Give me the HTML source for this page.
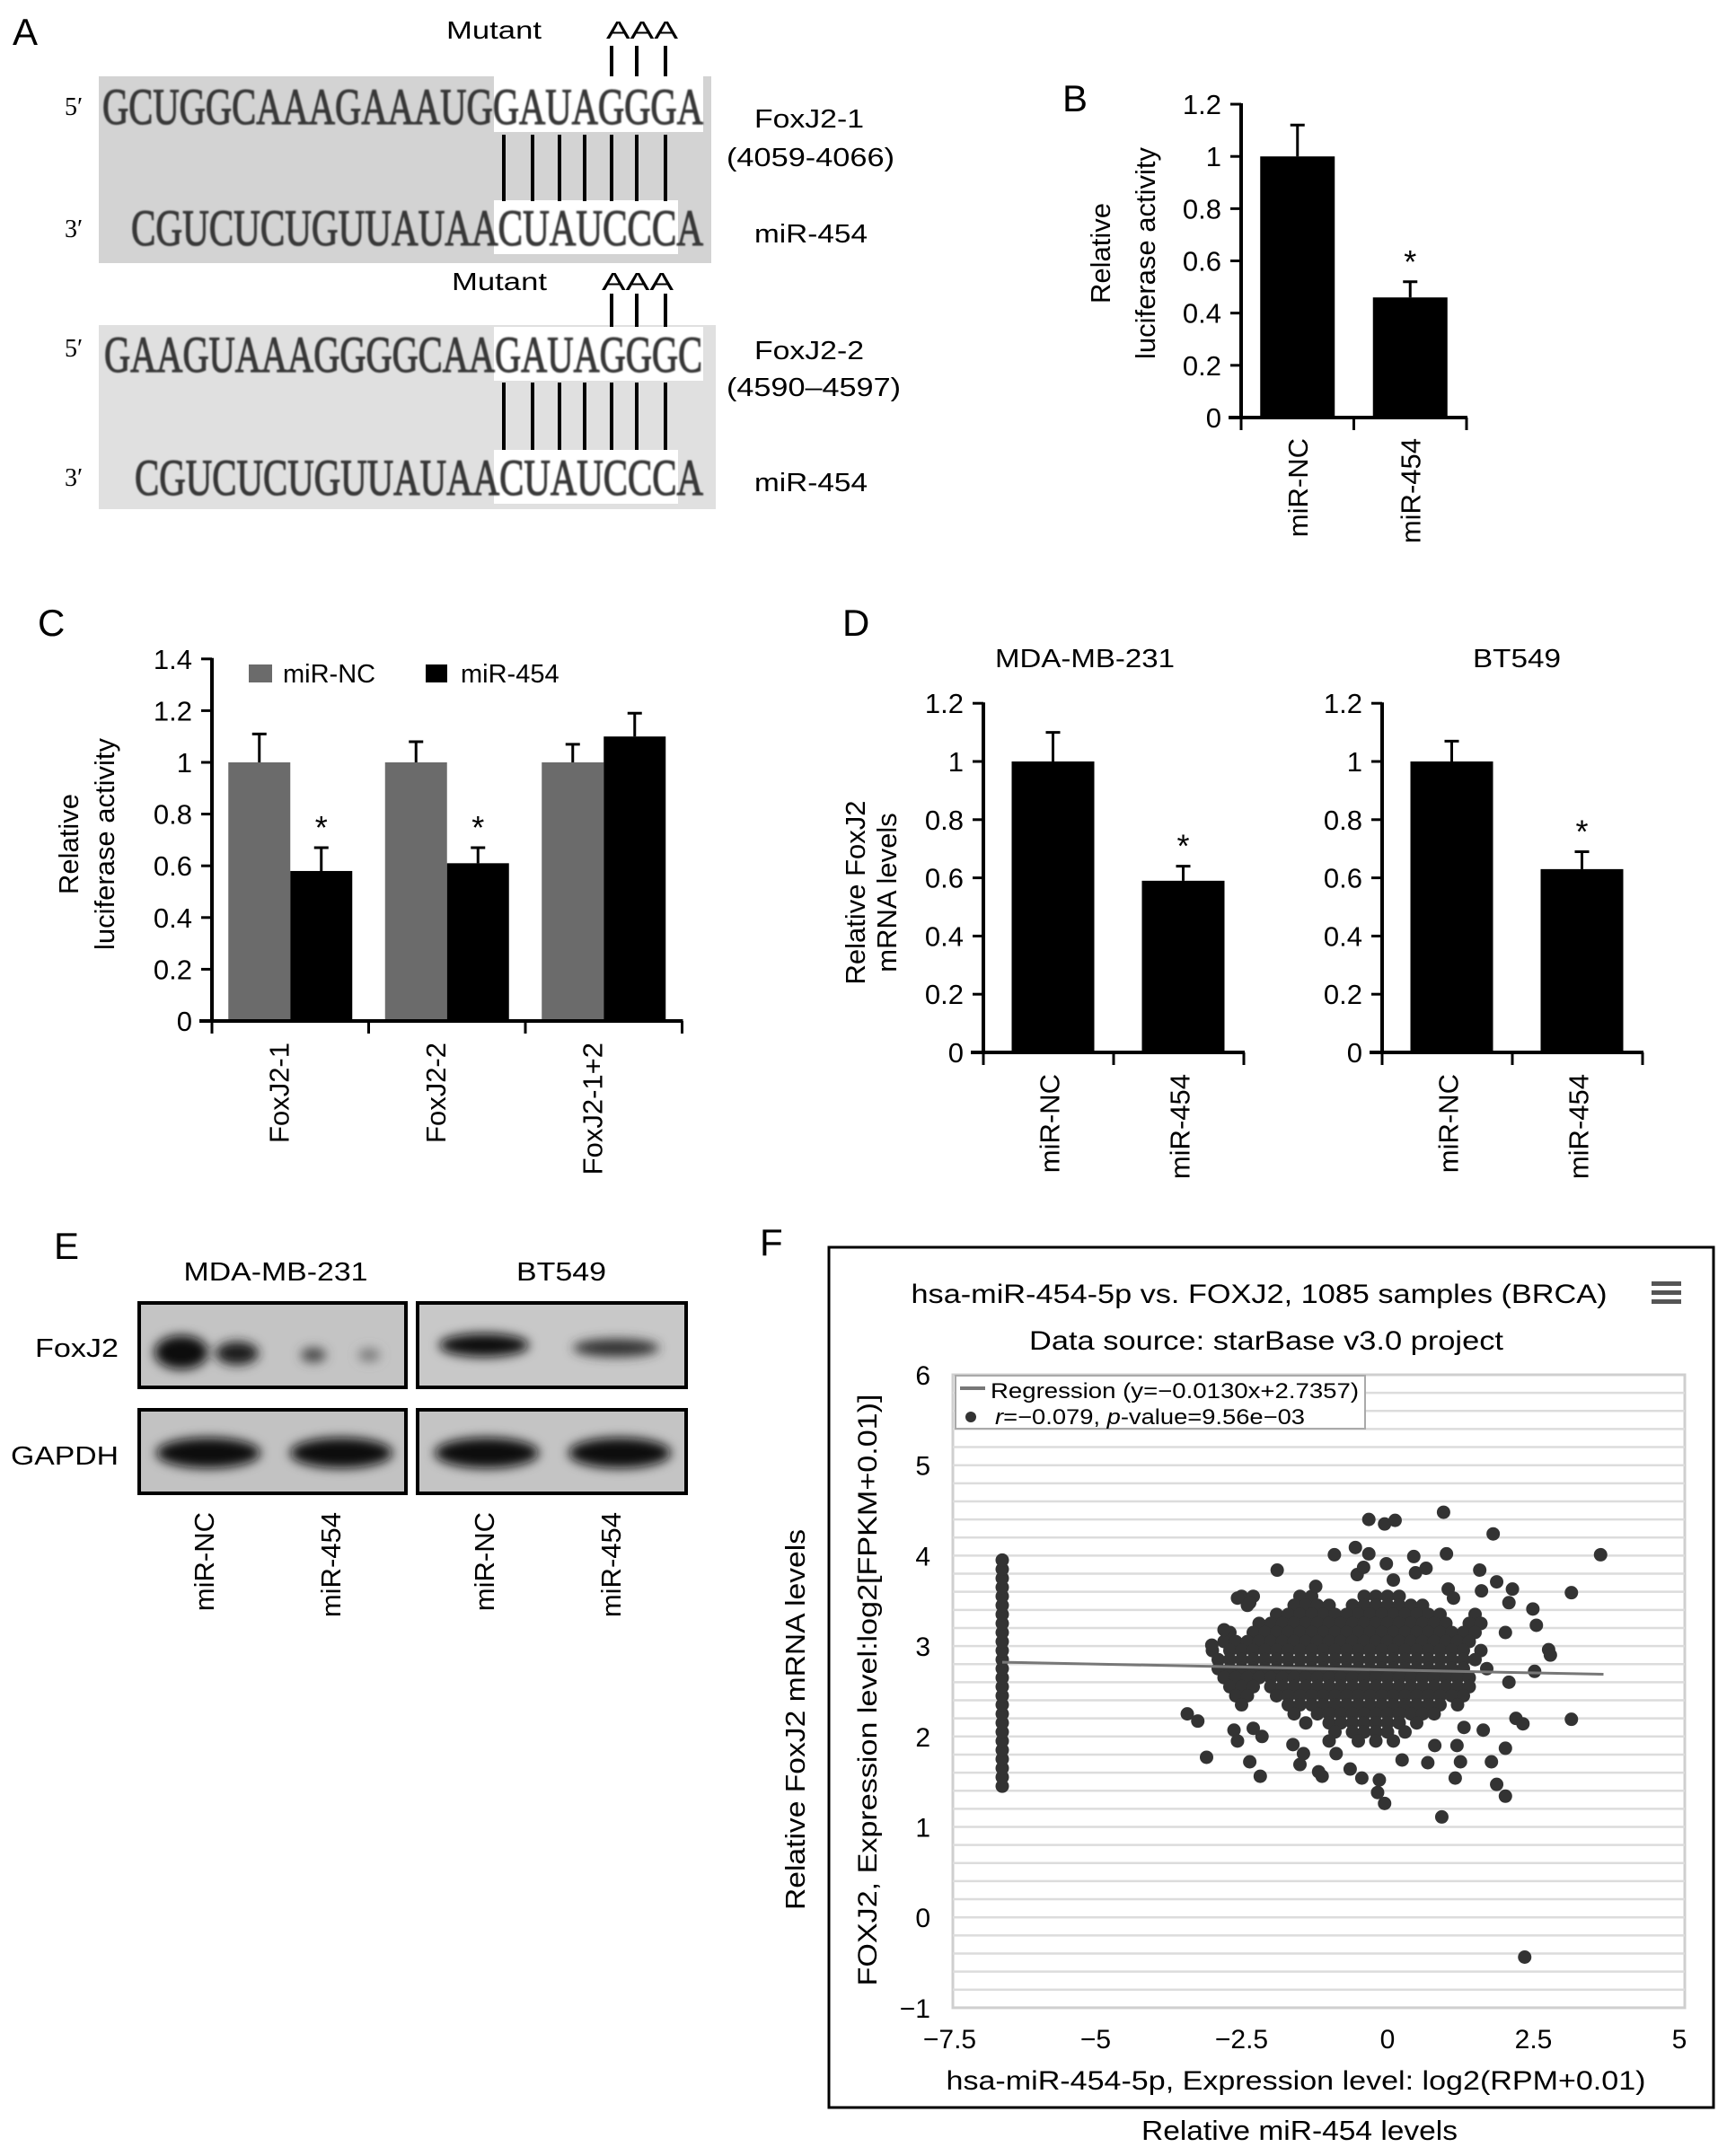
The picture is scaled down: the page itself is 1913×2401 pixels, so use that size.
<!DOCTYPE html>
<html><head><meta charset="utf-8"><title>miR-454 FoxJ2 figure</title>
<style>
html,body{margin:0;padding:0;background:#fff;}
svg{display:block;}
text{font-family:"Liberation Sans",Arial,sans-serif;fill:#000;}
.serif{font-family:"Liberation Serif","Times New Roman",serif;}
</style></head>
<body>
<svg id="fig" xmlns="http://www.w3.org/2000/svg" width="1913" height="2401" viewBox="0 0 1913 2401">
<defs>
<filter id="blur3" x="-50%" y="-50%" width="200%" height="200%"><feGaussianBlur stdDeviation="6"/></filter>
<filter id="blur1"><feGaussianBlur stdDeviation="0.8"/></filter>
</defs>

<!-- ===== Panel A ===== -->
<g>
<text x="14" y="50" font-size="42">A</text>
<rect x="110" y="85" width="682" height="208" fill="#d3d3d3"/>
<rect x="550" y="85" width="233" height="62" fill="#fff"/>
<rect x="550" y="223" width="205" height="60" fill="#fff"/>
<rect x="110" y="362" width="687" height="205" fill="#e0e0e0"/>
<rect x="550" y="364" width="233" height="60" fill="#fff"/>
<rect x="550" y="501" width="205" height="60" fill="#fff"/>

<text x="497" y="43" font-size="28" textLength="106" lengthAdjust="spacingAndGlyphs">Mutant</text>
<text x="675" y="43" font-size="28" textLength="80" lengthAdjust="spacingAndGlyphs">AAA</text>
<text x="503" y="323" font-size="28" textLength="106" lengthAdjust="spacingAndGlyphs">Mutant</text>
<text x="670" y="323" font-size="28" textLength="80" lengthAdjust="spacingAndGlyphs">AAA</text>

<g fill="#383838" stroke="#383838" stroke-width="1.2" filter="url(#blur1)">
<text class="serif" x="114" y="138" font-size="57" textLength="669" lengthAdjust="spacingAndGlyphs" style="fill:#383838">GCUGGCAAAGAAAUGGAUAGGGA</text>
<text class="serif" x="146" y="273" font-size="57" textLength="637" lengthAdjust="spacingAndGlyphs" style="fill:#383838">CGUCUCUGUUAUAACUAUCCCA</text>
<text class="serif" x="116" y="414" font-size="57" textLength="666" lengthAdjust="spacingAndGlyphs" style="fill:#383838">GAAGUAAAGGGGCAAGAUAGGGC</text>
<text class="serif" x="150" y="551" font-size="57" textLength="633" lengthAdjust="spacingAndGlyphs" style="fill:#383838">CGUCUCUGUUAUAACUAUCCCA</text>
</g>
<text class="serif" x="72" y="128" font-size="28">5′</text>
<text class="serif" x="72" y="264" font-size="28">3′</text>
<text class="serif" x="72" y="397" font-size="28">5′</text>
<text class="serif" x="72" y="541" font-size="28">3′</text>

<text x="840" y="142" font-size="29" textLength="122" lengthAdjust="spacingAndGlyphs">FoxJ2-1</text>
<text x="809" y="185" font-size="29" textLength="187" lengthAdjust="spacingAndGlyphs">(4059-4066)</text>
<text x="840" y="270" font-size="29" textLength="126" lengthAdjust="spacingAndGlyphs">miR-454</text>
<text x="840" y="400" font-size="29" textLength="122" lengthAdjust="spacingAndGlyphs">FoxJ2-2</text>
<text x="809" y="441" font-size="29" textLength="194" lengthAdjust="spacingAndGlyphs">(4590–4597)</text>
<text x="840" y="547" font-size="29" textLength="126" lengthAdjust="spacingAndGlyphs">miR-454</text>
<g id="pairLines" stroke="#000" stroke-width="4"></g>
</g>

<!-- ===== Panel labels ===== -->
<text x="1183" y="124" font-size="42">B</text>
<text x="42" y="708" font-size="42">C</text>
<text x="938" y="708" font-size="42">D</text>
<text x="60" y="1402" font-size="42">E</text>
<text x="846" y="1398" font-size="42">F</text>

<text transform="translate(1236,282) rotate(-90)" text-anchor="middle" font-size="31">Relative</text>
<text transform="translate(1286,282) rotate(-90)" text-anchor="middle" font-size="31">luciferase activity</text>
<text transform="translate(87,940) rotate(-90)" text-anchor="middle" font-size="31">Relative</text>
<text transform="translate(127,940) rotate(-90)" text-anchor="middle" font-size="31">luciferase activity</text>
<rect x="277" y="740" width="26" height="20" fill="#6b6b6b"/>
<text x="315" y="760" font-size="29">miR-NC</text>
<rect x="474" y="740" width="24" height="20" fill="#000"/>
<text x="513" y="760" font-size="29">miR-454</text>
<text x="1208" y="743" text-anchor="middle" font-size="29" textLength="200" lengthAdjust="spacingAndGlyphs">MDA-MB-231</text>
<text x="1689" y="743" text-anchor="middle" font-size="29" textLength="98" lengthAdjust="spacingAndGlyphs">BT549</text>
<text transform="translate(963,994) rotate(-90)" text-anchor="middle" font-size="31">Relative FoxJ2</text>
<text transform="translate(998,994) rotate(-90)" text-anchor="middle" font-size="31">mRNA levels</text>

<!-- ===== Panel E ===== -->
<g>
<text x="307" y="1426" text-anchor="middle" font-size="29" textLength="205" lengthAdjust="spacingAndGlyphs">MDA-MB-231</text>
<text x="625" y="1426" text-anchor="middle" font-size="29" textLength="100" lengthAdjust="spacingAndGlyphs">BT549</text>
<text x="132" y="1511" text-anchor="end" font-size="29" textLength="93" lengthAdjust="spacingAndGlyphs">FoxJ2</text>
<text x="132" y="1631" text-anchor="end" font-size="29" textLength="120" lengthAdjust="spacingAndGlyphs">GAPDH</text>
<rect x="155" y="1451" width="297" height="94" fill="#c4c4c4" stroke="#000" stroke-width="4"/>
<rect x="465" y="1451" width="299" height="94" fill="#c8c8c8" stroke="#000" stroke-width="4"/>
<rect x="155" y="1570" width="297" height="93" fill="#c2c2c2" stroke="#000" stroke-width="4"/>
<rect x="465" y="1570" width="299" height="93" fill="#c4c4c4" stroke="#000" stroke-width="4"/>
<g filter="url(#blur3)">
<ellipse cx="202" cy="1506" rx="30" ry="19" fill="#0a0a0a"/>
<ellipse cx="264" cy="1507" rx="24" ry="13" fill="#1a1a1a"/>
<ellipse cx="349" cy="1509" rx="14" ry="8" fill="#444"/>
<ellipse cx="411" cy="1509" rx="12" ry="7" fill="#777"/>
<ellipse cx="539" cy="1498" rx="50" ry="13" fill="#111"/>
<ellipse cx="686" cy="1501" rx="48" ry="10" fill="#333"/>
<ellipse cx="232" cy="1618" rx="58" ry="17" fill="#111"/>
<ellipse cx="380" cy="1618" rx="57" ry="17" fill="#111"/>
<ellipse cx="542" cy="1618" rx="58" ry="17" fill="#111"/>
<ellipse cx="690" cy="1618" rx="57" ry="17" fill="#111"/>
</g>
</g>

<!-- ===== Panel F frame ===== -->
<g>
<rect x="923" y="1389" width="985" height="958" fill="#fff" stroke="#000" stroke-width="3"/>
<text x="1402" y="1451" text-anchor="middle" font-size="30" textLength="775" lengthAdjust="spacingAndGlyphs">hsa-miR-454-5p vs. FOXJ2, 1085 samples (BRCA)</text>
<text x="1410" y="1503" text-anchor="middle" font-size="30" textLength="528" lengthAdjust="spacingAndGlyphs">Data source: starBase v3.0 project</text>
<g>
<rect x="1839" y="1427" width="33" height="5" fill="#555"/>
<rect x="1839" y="1437" width="33" height="5" fill="#555"/>
<rect x="1839" y="1447" width="33" height="5" fill="#555"/>
</g>
<text x="1443" y="2327" text-anchor="middle" font-size="30" textLength="779" lengthAdjust="spacingAndGlyphs">hsa-miR-454-5p, Expression level: log2(RPM+0.01)</text>
<text transform="translate(976,1882) rotate(-90)" text-anchor="middle" font-size="30" textLength="659" lengthAdjust="spacingAndGlyphs">FOXJ2, Expression level:log2[FPKM+0.01)]</text>
<text transform="translate(896,1915) rotate(-90)" text-anchor="middle" font-size="31" textLength="424" lengthAdjust="spacingAndGlyphs">Relative FoxJ2 mRNA levels</text>
<text x="1447" y="2383" text-anchor="middle" font-size="31" textLength="352" lengthAdjust="spacingAndGlyphs">Relative miR-454 levels</text>
</g>
<g id="charts"></g>
</svg>

<script>
// ---------- data ----------
const bCategories = ['miR-NC','miR-454'];
const bValues = [1.0, 0.46];
const bErrors = [0.12, 0.06];
const bStars = [false, true];
const bTicks = [0, 0.2, 0.4, 0.6, 0.8, 1, 1.2];
const bTickLabels = ['0','0.2','0.4','0.6','0.8','1','1.2'];

const cCategories = ['FoxJ2-1','FoxJ2-2','FoxJ2-1+2'];
const cNC = [1.0, 1.0, 1.0];
const cNCErr = [0.11, 0.08, 0.07];
const c454 = [0.58, 0.61, 1.10];
const c454Err = [0.09, 0.06, 0.09];
const c454Stars = [true, true, false];
const cTicks = [0, 0.2, 0.4, 0.6, 0.8, 1, 1.2, 1.4];
const cTickLabels = ['0','0.2','0.4','0.6','0.8','1','1.2','1.4'];

const dCategories = ['miR-NC','miR-454'];
const dMdaValues = [1.0, 0.59];
const dMdaErrors = [0.10, 0.05];
const dBtValues = [1.0, 0.63];
const dBtErrors = [0.07, 0.06];
const dStars = [false, true];
const dTicks = [0, 0.2, 0.4, 0.6, 0.8, 1, 1.2];
const dTickLabels = ['0','0.2','0.4','0.6','0.8','1','1.2'];

const eLanes = ['miR-NC','miR-454','miR-NC','miR-454'];

const fXTicks = [-7.5, -5, -2.5, 0, 2.5, 5];
const fXTickLabels = ['\u22127.5','\u22125','\u22122.5','0','2.5','5'];
const fYTicks = [-1, 0, 1, 2, 3, 4, 5, 6];
const fYTickLabels = ['\u22121','0','1','2','3','4','5','6'];
const fRegSlope = -0.0130;
const fRegIntercept = 2.7357;
const fRegXRange = [-6.6, 3.7];
const fStripX = -6.6;
const fStripY = [1.45,1.55,1.65,1.75,1.85,1.95,2.05,2.15,2.25,2.35,2.45,2.55,2.65,2.75,2.85,2.95,3.05,3.15,3.25,3.35,3.45,3.55,3.65,3.75,3.85,3.95];
const fCoreRowY = [3.55,3.45,3.35,3.25,3.15,3.05,2.95,2.85,2.75,2.65,2.55,2.45,2.35,2.25,2.15,2.05,1.95];
const fCoreRowX = [
 [-2.5,-2.3,-1.5,-1.3,-0.4,-0.2,0.0,0.2],
 [-2.4,-1.6,-1.4,-1.2,-1.0,-0.6,-0.4,-0.2,0.0,0.2,0.4,0.6],
 [-1.9,-1.7,-1.5,-1.3,-1.1,-0.9,-0.7,-0.5,-0.3,-0.1,0.1,0.3,0.5,0.7,0.9,1.5],
 [-2.2,-2.0,-1.8,-1.6,-1.4,-1.2,-1.0,-0.8,-0.6,-0.4,-0.2,0,0.2,0.4,0.6,0.8,1.0,1.4,1.6],
 [-2.7,-2.3,-2.1,-1.9,-1.7,-1.5,-1.3,-1.1,-0.9,-0.7,-0.5,-0.3,-0.1,0.1,0.3,0.5,0.7,0.9,1.1,1.3,1.5],
 [-2.8,-2.6,-2.4,-2.2,-2.0,-1.8,-1.6,-1.4,-1.2,-1.0,-0.8,-0.6,-0.4,-0.2,0,0.2,0.4,0.6,0.8,1.0,1.2,1.4],
 [-3.0,-2.7,-2.5,-2.3,-2.1,-1.9,-1.7,-1.5,-1.3,-1.1,-0.9,-0.7,-0.5,-0.3,-0.1,0.1,0.3,0.5,0.7,0.9,1.1,1.3,1.6],
 [-2.9,-2.7,-2.5,-2.3,-2.1,-1.9,-1.7,-1.5,-1.3,-1.1,-0.9,-0.7,-0.5,-0.3,-0.1,0.1,0.3,0.5,0.7,0.9,1.1,1.3,1.5],
 [-2.9,-2.7,-2.5,-2.3,-2.1,-1.9,-1.7,-1.5,-1.3,-1.1,-0.9,-0.7,-0.5,-0.3,-0.1,0.1,0.3,0.5,0.7,0.9,1.1,1.3,1.7],
 [-2.8,-2.6,-2.4,-2.2,-2.0,-1.8,-1.6,-1.4,-1.2,-1.0,-0.8,-0.6,-0.4,-0.2,0,0.2,0.4,0.6,0.8,1.0,1.2,1.4],
 [-2.7,-2.5,-2.3,-2.0,-1.8,-1.6,-1.4,-1.2,-1.0,-0.8,-0.6,-0.4,-0.2,0,0.2,0.4,0.6,0.8,1.0,1.2,1.4],
 [-2.6,-2.4,-1.9,-1.7,-1.5,-1.3,-1.1,-0.9,-0.7,-0.5,-0.3,-0.1,0.1,0.3,0.5,0.7,0.9,1.1,1.3],
 [-2.5,-1.7,-1.5,-1.3,-1.1,-0.9,-0.7,-0.5,-0.3,-0.1,0.1,0.3,0.5,0.7,0.9,1.2],
 [-1.6,-1.2,-1.0,-0.8,-0.6,-0.4,-0.2,0,0.2,0.4,0.6,0.8],
 [-1.4,-1.0,-0.8,-0.6,-0.4,-0.2,0.0,0.2,0.5],
 [-0.9,-0.6,-0.4,-0.2,0.0,0.3],
 [-1.0,-0.5,-0.2,0.1]
];
const fOutX = [-0.32,-0.05,0.13,0.96,1.81,3.65,-0.91,-0.55,-0.32,-1.89,-0.02,0.45,1.01,1.58,1.87,2.14,3.15,2.08,2.49,2.55,2.02,2.76,2.79,2.52,2.08,3.15,2.20,2.32,2.02,2.02,1.87,1.78,1.16,1.25,1.19,0.81,0.69,0.93,0.25,-0.05,-0.17,-0.14,-0.44,-0.64,-0.88,-1.12,-1.18,-1.50,-2.18,-2.36,-3.10,-3.25,-3.43,-2.63,-2.57,-2.30,-2.15,-1.62,-1.44,-3.01,-2.80,-2.57,-2.36,-1.23,-0.52,-0.41,0.10,0.48,0.66,1.61,1.04,1.13,1.31,1.64,2.35];
const fOutY = [4.40,4.35,4.39,4.48,4.24,4.01,4.01,4.09,4.02,3.84,3.91,3.99,4.02,3.84,3.71,3.63,3.59,3.48,3.41,3.23,3.15,2.96,2.90,2.72,2.60,2.19,2.20,2.14,1.87,1.34,1.47,1.72,1.54,1.72,1.90,1.90,1.71,1.11,1.74,1.26,1.38,1.52,1.54,1.64,1.81,1.56,1.61,1.69,1.56,1.72,1.77,2.17,2.25,2.07,1.95,2.09,2.00,1.91,1.81,3.01,3.18,3.53,3.48,3.66,3.79,3.87,3.73,3.81,3.86,3.61,3.63,3.53,2.10,2.07,-0.44];

// ---------- helpers ----------
const NS = 'http://www.w3.org/2000/svg';
const root = document.getElementById('charts');
function el(tag, parent) { const e = document.createElementNS(NS, tag); (parent || root).appendChild(e); return e; }
function at(e, o) { for (const k in o) e.setAttribute(k, o[k]); return e; }

const pairGroup = document.getElementById('pairLines');
const pairXs = [561, 593, 623, 651, 681, 709, 741];
const pairRows = [[150, 224], [426, 501]];
pairRows.forEach(function (r) {
  pairXs.forEach(function (x) {
    const l = el('line', pairGroup); at(l, {x1: x, x2: x, y1: r[0], y2: r[1]});
    
    
  });
});
[[51, 85], [327, 364]].forEach(function (r) {
  pairXs.slice(4).forEach(function (x) {
    const l = el('line', pairGroup); at(l, {x1: x, x2: x, y1: r[0], y2: r[1]});
    
    
  });
});

function yAxis(g, ax, y0, unit, ticks, labels) {
  const ys = v => y0 - v * unit;
  const a = el('line', g); at(a, {x1: ax, x2: ax, y1: ys(ticks[ticks.length - 1]) - 1, y2: y0 + 2, stroke: '#000', 'stroke-width': 4});
  
  
  ticks.forEach(function (t, i) {
    const tk = el('line', g); at(tk, {x1: ax - 12, x2: ax, y1: ys(t), y2: ys(t), stroke: '#000', 'stroke-width': 3});
    
    
    const tx = el('text', g); at(tx, {x: ax - 22, y: ys(t) + 11, 'text-anchor': 'end', 'font-size': 31});
    tx.textContent = labels[i];
    
    
  });
  return ys;
}
function xAxis(g, ax, y0, groupW, n) {
  const a = el('line', g); at(a, {x1: ax - 14, x2: ax + groupW * n + 1, y1: y0, y2: y0, stroke: '#000', 'stroke-width': 4});
  
  
  for (let i = 0; i <= n; i++) {
    const tk = el('line', g); at(tk, {x1: ax + groupW * i, x2: ax + groupW * i, y1: y0, y2: y0 + 14, stroke: '#000', 'stroke-width': 3});
    
    
  }
}
function bar(g, x, w, y0, ys, v, err, fill, star, name) {
  const r = el('rect', g); at(r, {x: x, y: ys(v), width: w, height: y0 - ys(v), fill: fill});
  
  
  const cx = x + w / 2;
  const e = el('path', g); at(e, {d: 'M' + cx + ' ' + ys(v) + 'V' + ys(v + err) + 'M' + (cx - 8) + ' ' + ys(v + err) + 'H' + (cx + 8), stroke: '#000', 'stroke-width': 3, fill: 'none'});
  
  
  if (star) {
    const s = el('text', g); at(s, {x: cx, y: ys(v + err) - 10, 'text-anchor': 'middle', 'font-size': 36});
    s.textContent = '*';
    
    
  }
}
function catLabel(g, cx, top, txt) {
  const t = el('text', g); at(t, {transform: 'translate(' + (cx + 11) + ',' + top + ') rotate(-90)', 'text-anchor': 'end', 'font-size': 31});
  t.textContent = txt;
  
  
}

// ---------- Panel B ----------
(function () {
  const g = el('g');  
  const ax = 1382, y0 = 465, unit = 290.8, gw = 125.5, bw = 83;
  bCategories.forEach(function (c, i) {
    const cx = ax + gw * (i + 0.5);
    bar(g, cx - bw / 2, bw, y0, v => y0 - v * unit, bValues[i], bErrors[i], '#000', bStars[i], 'bar-b-' + c);
    catLabel(g, cx, 488, c);
  });
  yAxis(g, ax, y0, unit, bTicks, bTickLabels);
  xAxis(g, ax, y0, gw, bCategories.length);
})();

// ---------- Panel C ----------
(function () {
  const g = el('g');  
  const ax = 236, y0 = 1137, unit = 288, gw = 174.5, bw = 69;
  const ys = v => y0 - v * unit;
  cCategories.forEach(function (c, i) {
    const cx = ax + gw * (i + 0.5);
    bar(g, cx - bw, bw, y0, ys, cNC[i], cNCErr[i], '#6b6b6b', false, 'bar-c-nc-' + c);
    bar(g, cx, bw, y0, ys, c454[i], c454Err[i], '#000', c454Stars[i], 'bar-c-454-' + c);
    catLabel(g, cx - 13, 1161, c);
  });
  yAxis(g, ax, y0, unit, cTicks, cTickLabels);
  xAxis(g, ax, y0, gw, cCategories.length);
})();

// ---------- Panel D ----------
function dChart(ax, vals, errs, name) {
  const g = el('g');  
  const y0 = 1172, unit = 324, gw = 145, bw = 92;
  dCategories.forEach(function (c, i) {
    const cx = ax + gw * (i + 0.5) + 5;
    bar(g, cx - bw / 2, bw, y0, v => y0 - v * unit, vals[i], errs[i], '#000', dStars[i], 'bar-d-' + c);
    catLabel(g, cx - 4, 1196, c);
  });
  yAxis(g, ax, y0, unit, dTicks, dTickLabels);
  xAxis(g, ax, y0, gw, dCategories.length);
}
dChart(1095, dMdaValues, dMdaErrors, 'panel-d-mda-chart');
dChart(1539, dBtValues, dBtErrors, 'panel-d-bt549-chart');

// ---------- Panel E lane labels ----------
(function () {
  const g = el('g');  
  const laneX = [227, 368, 539, 680];
  eLanes.forEach(function (c, i) { catLabel(g, laneX[i], 1684, c); });
})();

// ---------- Panel F scatter ----------
(function () {
  const g = el('g');  
  const xs = v => 1545 + 65 * v;
  const ys = v => 1531 + (6 - v) * 100.7;
  const px0 = 1061, px1 = 1876, py0 = ys(6), py1 = ys(-1);
  const bg = el('rect', g); at(bg, {x: px0, y: py0, width: px1 - px0, height: py1 - py0, fill: '#fff', stroke: '#cfcfcf', 'stroke-width': 3});
  
  
  for (let k = 1; k < 35; k++) {
    const v = -1 + k * 0.2;
    const gl = el('line', g); at(gl, {x1: px0, x2: px1, y1: ys(v), y2: ys(v), stroke: '#dcdcdc', 'stroke-width': 2.5});
    
    
  }
  fYTicks.forEach(function (t, i) {
    const tx = el('text', g); at(tx, {x: 1036, y: ys(t) + 11, 'text-anchor': 'end', 'font-size': 30});
    tx.textContent = fYTickLabels[i];
    
    
  });
  fXTicks.forEach(function (t, i) {
    const tx = el('text', g); at(tx, {x: xs(t), y: 2281, 'text-anchor': 'middle', 'font-size': 30});
    tx.textContent = fXTickLabels[i];
    
    
  });
  function dot(x, y, name) {
    const c = el('circle', g); at(c, {cx: xs(x), cy: ys(y), r: 7.5, fill: '#333'});
    
    
  }
  fStripY.forEach(function (y) { dot(fStripX, y, 'f-point-zero-expression'); });
  fCoreRowY.forEach(function (y, i) { fCoreRowX[i].forEach(function (x) { dot(x, y, 'f-point'); }); });
  fOutX.forEach(function (x, i) { dot(x, fOutY[i], 'f-point'); });
  const rl = el('line', g); at(rl, {x1: xs(fRegXRange[0]), x2: xs(fRegXRange[1]), y1: ys(fRegIntercept + fRegSlope * fRegXRange[0]), y2: ys(fRegIntercept + fRegSlope * fRegXRange[1]), stroke: '#777', 'stroke-width': 3});
  
  
  const lg = el('g', g);  
  const lb = el('rect', lg); at(lb, {x: 1064, y: 1532, width: 456, height: 59, fill: '#fff', stroke: '#aaa', 'stroke-width': 2});
  
  
  const ll = el('line', lg); at(ll, {x1: 1069, x2: 1097, y1: 1546, y2: 1546, stroke: '#777', 'stroke-width': 4});
  
  
  const t1 = el('text', lg); at(t1, {x: 1103, y: 1557, 'font-size': 24, textLength: 410, lengthAdjust: 'spacingAndGlyphs'});
  t1.textContent = 'Regression (y=\u22120.0130x+2.7357)';
  
  
  const ld = el('circle', lg); at(ld, {cx: 1081, cy: 1578, r: 6, fill: '#333'});
  
  
  const t2 = el('text', lg); at(t2, {x: 1108, y: 1586, 'font-size': 24, textLength: 345, lengthAdjust: 'spacingAndGlyphs'});
  t2.innerHTML = '<tspan font-style="italic">r</tspan>=\u22120.079, <tspan font-style="italic">p</tspan>-value=9.56e\u221203';
  
  
})();
</script>
</body></html>
